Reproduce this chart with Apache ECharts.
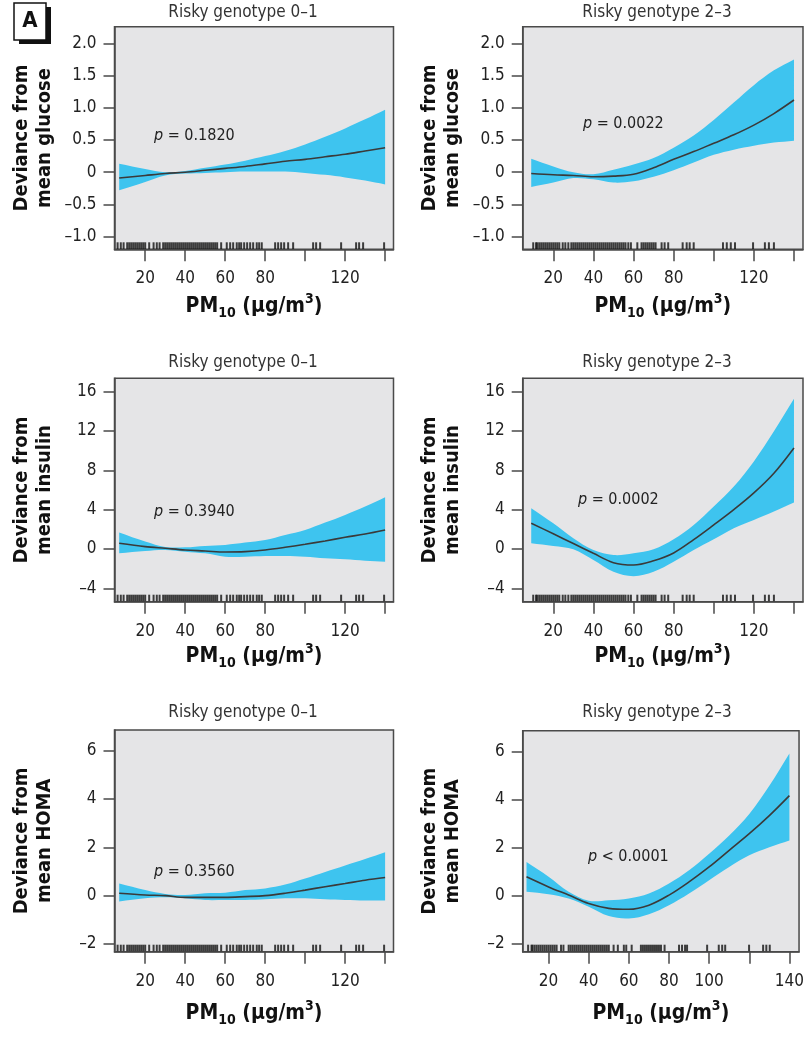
<!DOCTYPE html>
<html><head><meta charset="utf-8">
<script src="https://cdn.jsdelivr.net/npm/echarts@6/dist/echarts.min.js"></script>
<style>html,body{margin:0;padding:0;background:#fff}#c{width:807px;height:1037px}</style>
</head><body><div id="c"></div>
<script>
// ---------------- data ----------------
const xLeft  = [7, 20, 30, 40, 50, 60, 70, 80, 90, 100, 110, 120, 130, 140];
const xRight = [9, 20, 30, 40, 50, 60, 70, 80, 90, 100, 110, 120, 130, 140];

// Glucose, risky genotype 0-1
const gluLowFit   = [-0.09, -0.05, -0.02, 0.00, 0.03, 0.06, 0.09, 0.13, 0.17, 0.20, 0.24, 0.28, 0.33, 0.38];
const gluLowUpper = [0.13, 0.05, 0.00, 0.02, 0.07, 0.12, 0.18, 0.25, 0.33, 0.43, 0.55, 0.68, 0.82, 0.97];
const gluLowLower = [-0.28, -0.15, -0.05, -0.02, -0.01, 0.00, 0.01, 0.01, 0.01, -0.01, -0.04, -0.08, -0.13, -0.19];
// Glucose, risky genotype 2-3
const gluHighFit   = [-0.02, -0.04, -0.05, -0.07, -0.06, -0.03, 0.07, 0.20, 0.32, 0.45, 0.58, 0.73, 0.91, 1.12];
const gluHighUpper = [0.21, 0.09, 0.00, -0.03, 0.04, 0.12, 0.22, 0.38, 0.57, 0.81, 1.08, 1.35, 1.58, 1.75];
const gluHighLower = [-0.23, -0.16, -0.09, -0.11, -0.16, -0.14, -0.07, 0.03, 0.15, 0.27, 0.35, 0.41, 0.46, 0.49];
// Insulin, risky genotype 0-1
const insLowFit   = [0.58, 0.24, 0.07, -0.10, -0.20, -0.31, -0.27, -0.10, 0.17, 0.48, 0.82, 1.19, 1.53, 1.94];
const insLowUpper = [1.67, 0.75, 0.20, 0.17, 0.31, 0.41, 0.65, 0.92, 1.43, 1.94, 2.69, 3.47, 4.32, 5.27];
const insLowLower = [-0.44, -0.20, -0.10, -0.27, -0.44, -0.78, -0.78, -0.71, -0.71, -0.78, -0.95, -1.05, -1.19, -1.29];
// Insulin, risky genotype 2-3
const insHighFit   = [2.62, 1.55, 0.55, -0.44, -1.39, -1.63, -1.20, -0.40, 0.95, 2.45, 4.00, 5.70, 7.70, 10.27];
const insHighUpper = [4.15, 2.62, 1.09, -0.10, -0.61, -0.44, -0.03, 0.99, 2.45, 4.32, 6.36, 8.91, 11.97, 15.27];
const insHighLower = [0.58, 0.31, -0.03, -1.12, -2.31, -2.76, -2.31, -1.29, -0.10, 0.99, 2.11, 2.96, 3.81, 4.73];
// HOMA, risky genotype 0-1
const homaLowFit   = [0.10, 0.03, 0.00, -0.07, -0.07, -0.07, -0.04, 0.00, 0.10, 0.23, 0.37, 0.50, 0.64, 0.75];
const homaLowUpper = [0.50, 0.23, 0.07, 0.03, 0.10, 0.12, 0.23, 0.30, 0.46, 0.71, 0.98, 1.25, 1.52, 1.80];
const homaLowLower = [-0.24, -0.11, -0.07, -0.11, -0.18, -0.18, -0.18, -0.15, -0.11, -0.11, -0.15, -0.18, -0.20, -0.20];
// HOMA, risky genotype 2-3
const homaHighFit   = [0.79, 0.37, 0.03, -0.32, -0.52, -0.56, -0.39, 0.03, 0.58, 1.20, 1.89, 2.58, 3.33, 4.16];
const homaHighUpper = [1.40, 0.79, 0.17, -0.20, -0.18, -0.11, 0.10, 0.51, 1.06, 1.75, 2.51, 3.40, 4.57, 5.91];
const homaHighLower = [0.17, 0.07, -0.11, -0.45, -0.84, -0.94, -0.76, -0.39, 0.10, 0.65, 1.20, 1.68, 2.02, 2.30];

// rug (observed PM10 values)
const rugLow = [6.2, 7.8, 9.2, 11, 12, 13, 14, 15, 16, 17, 18, 19, 20, 22, 24.2, 25.8, 27.2,
  29, 30, 31, 32, 33, 34, 35, 36, 37, 38, 39, 40, 41, 42, 43, 44, 45, 46, 47, 48, 49, 50, 51, 52, 53, 54, 55, 56,
  58, 60.8, 62.5, 64, 65.8, 67, 68, 69.5, 71, 72.5, 74, 75.8, 77, 78.3, 85, 86.5, 88, 89.5, 91.5, 94,
  104, 105.5, 107.5, 118, 125.5, 127, 129, 139.5];
const rugHigh = [10, 11.4, 12, 13, 14, 15, 16, 17, 18, 19, 20, 21, 22, 23, 24.7, 26, 27.5,
  29, 30, 31, 32, 33, 34, 35, 36, 37, 38, 39, 40, 41, 42, 43, 44, 45, 46, 47, 48, 49, 50, 51, 52, 53, 54, 55, 56,
  57.4, 58.7, 61.9, 64, 65, 66, 67, 68, 69, 70, 71, 74, 75.5, 77.3, 84.5, 86.5, 88, 90,
  104.6, 106.5, 108.5, 110.6, 119.6, 125.5, 127.5, 130];
const rugHoma = [9.8, 11.5, 12, 13, 14, 15, 16, 17, 18, 19, 20, 21, 22, 23, 24, 26.2, 27.4,
  30, 31, 32, 33, 34, 35, 36, 37, 38, 39, 40, 41, 42, 43, 44, 45, 46, 47, 48, 49, 50,
  52.4, 54.5, 57.5, 58.7, 61.4, 66, 67, 68, 69, 70, 71, 72, 73, 74, 75, 76, 77.8,
  85, 86.5, 88, 89, 99, 104.8, 106.5, 108, 119.9, 126.9, 128.5, 130.2];

// axis ticks / labels
const xTicks = [20, 40, 60, 80, 100, 120, 140];
const xLabelsA = [20, 40, 60, 80, 120];
const xLabelsB = [20, 40, 60, 80, 100, 140];
const gluTicks = [-1.0, -0.5, 0, 0.5, 1.0, 1.5, 2.0];
const insTicks = [-4, 0, 4, 8, 12, 16];
const homaTicks = [-2, 0, 2, 4, 6];

const panelTitles = ['Risky genotype 0\u20131', 'Risky genotype 2\u20133'];
const yTitles = [['Deviance from', 'mean glucose'], ['Deviance from', 'mean insulin'], ['Deviance from', 'mean HOMA']];
const pTexts = ['= 0.1820', '= 0.0022', '= 0.3940', '= 0.0002', '= 0.3560', '< 0.0001'];

// ---------------- layout ----------------
const NARROW = "'Liberation Sans Narrow','Arial Narrow','DejaVu Sans Condensed',sans-serif";
const BAND = '#3ec4ef';
const BG = '#e5e5e7';
const AX = '#4a4a4a';

const panels = [
  {grid:{left:114.5, top:26.7, width:279, height:222.6}, xr:[4.65,144.2], yr:[-1.195,2.257], yt:gluTicks, dec:1, xl:xLabelsA, xs:xLeft, fit:gluLowFit, up:gluLowUpper, lo:gluLowLower, rug:rugLow, yt2:0, nameGap:43},
  {grid:{left:522.7, top:26.7, width:280.3, height:222.6}, xr:[4.75,144.5], yr:[-1.195,2.257], yt:gluTicks, dec:1, xl:xLabelsA, xs:xRight, fit:gluHighFit, up:gluHighUpper, lo:gluHighLower, rug:rugHigh, yt2:0, nameGap:43},
  {grid:{left:114.5, top:378.3, width:279, height:223.4}, xr:[4.65,144.2], yr:[-5.36,17.36], yt:insTicks, dec:0, xl:xLabelsA, xs:xLeft, fit:insLowFit, up:insLowUpper, lo:insLowLower, rug:rugLow, yt2:1, nameGap:41},
  {grid:{left:522.7, top:378.3, width:280.3, height:223.4}, xr:[4.75,144.5], yr:[-5.36,17.36], yt:insTicks, dec:0, xl:xLabelsA, xs:xRight, fit:insHighFit, up:insHighUpper, lo:insHighLower, rug:rugHigh, yt2:1, nameGap:41},
  {grid:{left:114.5, top:730, width:279, height:221.7}, xr:[4.65,144.2], yr:[-2.32,6.857], yt:homaTicks, dec:0, xl:xLabelsA, xs:xLeft, fit:homaLowFit, up:homaLowUpper, lo:homaLowLower, rug:rugLow, yt2:2, nameGap:48},
  {grid:{left:522.7, top:730.7, width:280.3, height:221}, xr:[7.1,144.8], yr:[-2.32,6.857], yt:homaTicks, dec:0, xl:xLabelsB, xs:xRight, fit:homaHighFit, up:homaHighUpper, lo:homaHighLower, rug:rugHoma, yt2:2, nameGap:48}
];
const titlePos = [[243,13],[657,13],[243,363],[657,363],[243,713],[657,713]];
const pPos = [[154,136],[583,124],[154,512],[578,500],[154,872],[588,857]];

function fmt(dec) {
  return function (v) {
    if (Math.abs(v) < 1e-9) return '0';
    const s = Math.abs(v).toFixed(dec);
    return (v < 0 ? '\u2013' : '') + s;
  };
}

// confidence band drawn as one smoothed polygon through the library's coordinate system
function bandRenderer(p) {
  return function (params, api) {
    if (params.dataIndex !== 0) return null;
    const n = p.xs.length, pts = [];
    for (let k = 0; k < n; k++) {
      const c = api.coord([p.xs[k], p.up[k]]);
      pts.push(c);
      if (k === 0 || k === n - 1) pts.push(c.slice());
    }
    for (let k = n - 1; k >= 0; k--) {
      const c = api.coord([p.xs[k], p.lo[k]]);
      pts.push(c);
      if (k === 0 || k === n - 1) pts.push(c.slice());
    }
    return {type:'polygon', shape:{points:pts, smooth:0.35}, style:{fill:BAND}, silent:true};
  };
}

const grid = [], xAxis = [], yAxis = [], series = [], graphic = [];
panels.forEach(function (p, i) {
  grid.push(Object.assign({show:true, backgroundColor:BG, borderColor:AX, borderWidth:1.5, containLabel:false}, p.grid));
  xAxis.push({
    type:'value', gridIndex:i, min:p.xr[0], max:p.xr[1], position:'bottom', z:10,
    axisLine:{show:true, onZero:false, lineStyle:{color:AX, width:1.5}},
    axisTick:{show:true, inside:false, length:12, lineStyle:{color:AX, width:1.5}, customValues:xTicks},
    axisLabel:{color:'#222', fontSize:17, fontFamily:NARROW, margin:21, customValues:p.xl},
    splitLine:{show:false},
    name:'{a|PM}{s|10}{a| (\u03bcg/m}{p|3}{a|)}',
    nameLocation:'middle', nameGap:p.nameGap,
    nameTextStyle:{rich:{
      a:{fontSize:21, fontWeight:'bold', fontFamily:NARROW, color:'#111', lineHeight:28},
      s:{fontSize:14, fontWeight:'bold', fontFamily:NARROW, color:'#111', lineHeight:10, verticalAlign:'bottom'},
      p:{fontSize:14, fontWeight:'bold', fontFamily:NARROW, color:'#111', lineHeight:12, verticalAlign:'top'}
    }}
  });
  yAxis.push({
    type:'value', gridIndex:i, min:p.yr[0], max:p.yr[1], z:10,
    axisLine:{show:true, onZero:false, lineStyle:{color:AX, width:1.5}},
    axisTick:{show:true, inside:false, length:11, lineStyle:{color:AX, width:1.5}, customValues:p.yt},
    axisLabel:{color:'#222', fontSize:17, fontFamily:NARROW, margin:18, customValues:p.yt, formatter:fmt(p.dec)},
    splitLine:{show:false},
    name:yTitles[p.yt2].join('\n'), nameLocation:'middle', nameRotate:90, nameGap:58,
    nameTextStyle:{fontSize:20, fontWeight:'bold', fontFamily:NARROW, color:'#111', lineHeight:23}
  });
  series.push({type:'custom', xAxisIndex:i, yAxisIndex:i, silent:true, z:1,
    encode:{x:0, y:[1, 2]},
    data:p.xs.map(function (x, k) { return [x, p.lo[k], p.up[k]]; }),
    renderItem:bandRenderer(p)});
  series.push({type:'line', xAxisIndex:i, yAxisIndex:i, smooth:0.35, symbol:'none', silent:true,
    lineStyle:{color:'#3a3a3a', width:1.6}, z:3,
    data:p.xs.map(function (x, k) { return [x, p.fit[k]]; })});
  series.push({type:'scatter', xAxisIndex:i, yAxisIndex:i, silent:true, symbol:'rect',
    symbolSize:[2, 7], symbolOffset:[0, -3.5], itemStyle:{color:'#111'}, z:4, clip:false,
    data:p.rug.map(function (x) { return [x, p.yr[0]]; })});

  graphic.push({type:'text', x:titlePos[i][0], y:titlePos[i][1], silent:true, z:100,
    style:{text:panelTitles[i % 2], fill:'#333', font:'17px ' + NARROW, align:'center', verticalAlign:'middle', textAlign:'center', textVerticalAlign:'middle'}});
  graphic.push({type:'text', x:pPos[i][0], y:pPos[i][1], silent:true, z:100,
    style:{text:'{i|p} ' + pTexts[i], fill:'#222', fontSize:16, fontFamily:NARROW, verticalAlign:'middle', textVerticalAlign:'middle',
      rich:{i:{fontStyle:'italic', fontSize:16, fontFamily:NARROW, fill:'#222'}}}});
});

// panel letter "A"
graphic.push({type:'rect', z:100, shape:{x:19, y:7, width:32, height:37}, style:{fill:'#111'}, silent:true});
graphic.push({type:'rect', z:101, shape:{x:14, y:3, width:32, height:37}, style:{fill:'#fff', stroke:'#111', lineWidth:1.5}, silent:true});
graphic.push({type:'text', z:102, x:30, y:21.5, silent:true,
  style:{text:'A', fill:'#111', font:'bold 22px ' + NARROW, align:'center', verticalAlign:'middle', textAlign:'center', textVerticalAlign:'middle'}});

const chart = echarts.init(document.getElementById('c'), null, {renderer:'canvas'});
chart.setOption({animation:false, backgroundColor:'#fff', grid:grid, xAxis:xAxis, yAxis:yAxis, series:series, graphic:graphic});
</script>
</body></html>
